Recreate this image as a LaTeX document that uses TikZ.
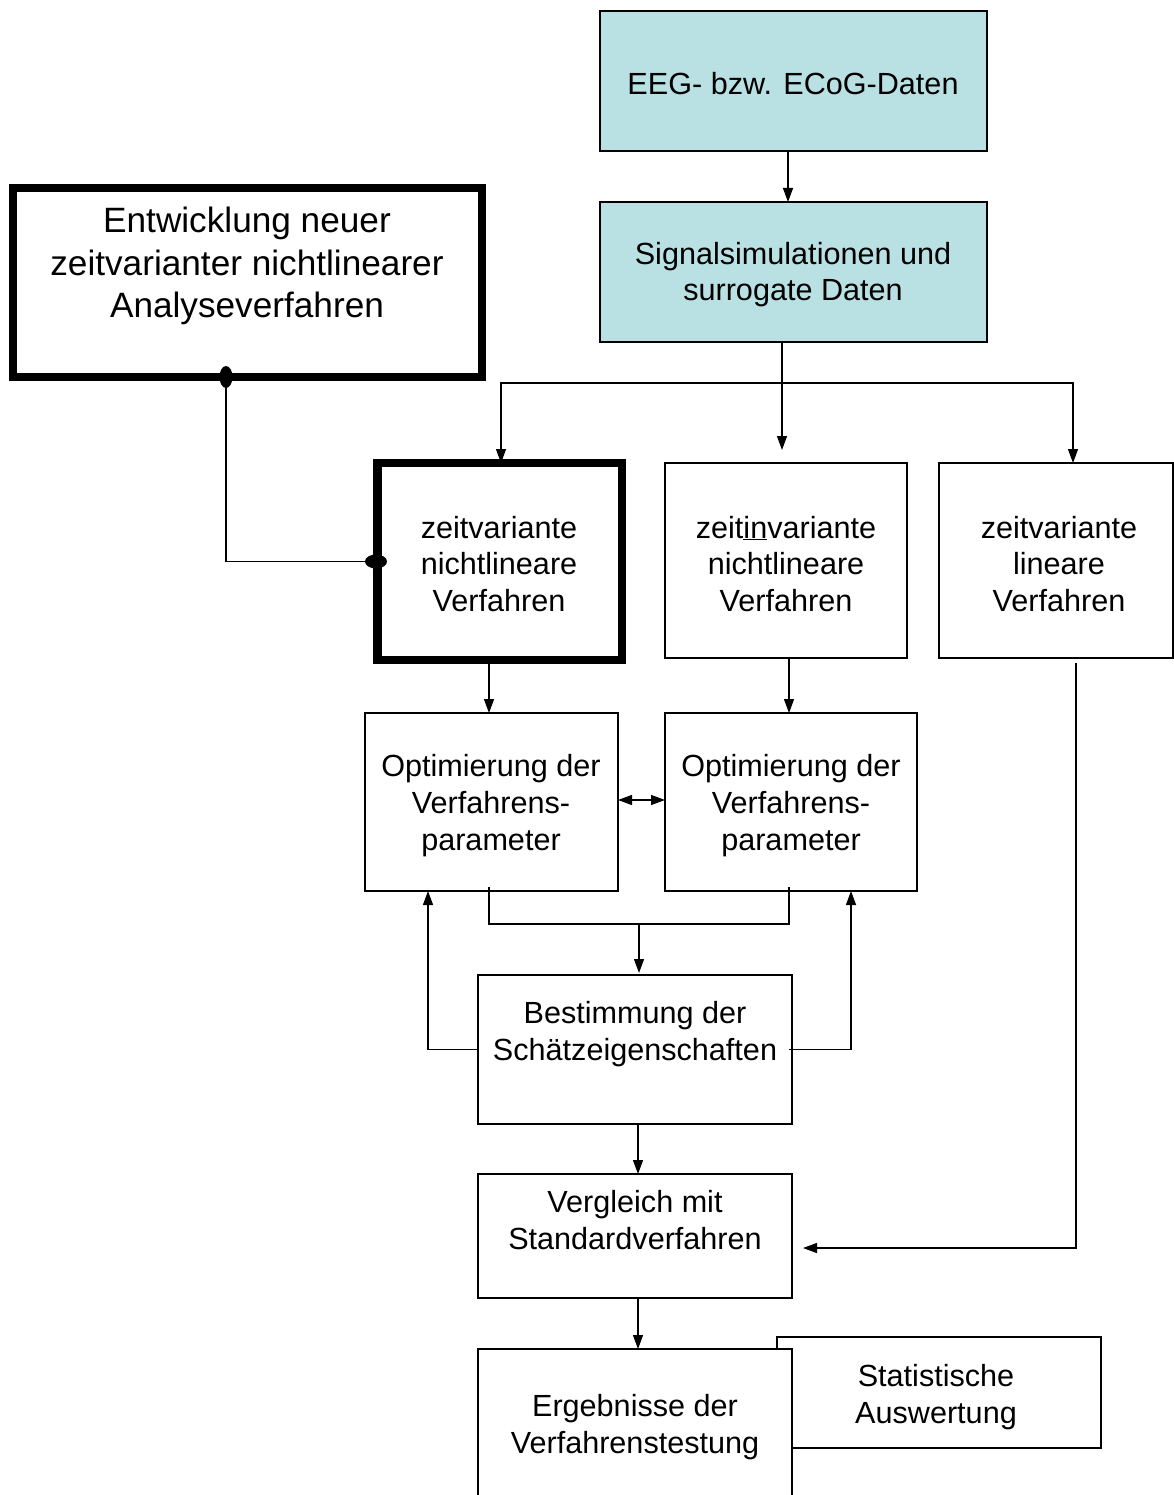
\documentclass[tikz,border=0pt]{standalone}
\usepackage{fontspec}
\setmainfont{Liberation Sans}
\usetikzlibrary{arrows.meta,calc,fit,shapes.geometric}
\definecolor{datafill}{RGB}{185,224,227}

\begin{document}
\begin{tikzpicture}[x=1pt,y=-1pt,
  box/.style={draw, line width=1.3pt, inner sep=0pt, outer sep=0pt},
  heavybox/.style={draw, line width=8.5pt, inner sep=0pt, outer sep=0pt},
  txt/.style={align=center, font=\fontsize{30.6}{36.8}\selectfont},
  bigtxt/.style={align=center, font=\fontsize{35.2}{42.5}\selectfont},
  link/.style={line width=1.3pt},
  arr/.style={link, -{Triangle[length=14pt,width=10pt]}},
  biarr/.style={link, {Triangle[length=14pt,width=10pt]}-{Triangle[length=14pt,width=10pt]}},
  dot/.style={ellipse, fill, inner sep=0pt, outer sep=0pt}]
\useasboundingbox (0,0) rectangle (1173,1495);

% columns and levels used by the connectors
\coordinate (x788) at (788,0);
\coordinate (x782) at (782,0);
\coordinate (x489) at (489,0);
\coordinate (x789) at (789,0);
\coordinate (x428) at (428,0);
\coordinate (x851) at (851,0);
\coordinate (x638) at (638,0);
\coordinate (x1076) at (1076,0);
\coordinate (x1073) at (1073,0);
\coordinate (x501) at (501,0);
\coordinate (x226) at (226,0);
\coordinate (y800) at (0,800);

% data sources
\node[box, fill=datafill, fit={(600,11) (987,151)}] (eeg) {};
\node[txt] (eegtext) at (793,84) {EEG- bzw. ECoG-Daten};
\node[box, fill=datafill, fit={(600,202) (987,342)}] (sig) {};
\node[txt] (sigtext) at (793,274.5) {Signalsimulationen und\\surrogate Daten};

% development of new methods
\node[heavybox, fit={(13,188) (482,377)}] (dev) {};
\node[bigtxt] (devtext) at (247,266) {Entwicklung neuer\\zeitvarianter nichtlinearer\\Analyseverfahren};

% method classes
\node[heavybox, fit={(377.5,463) (622,660)}] (tvnl) {};
\node[txt] (tvnltext) at (499,564) {zeitvariante\\nichtlineare\\Verfahren};
\node[box, fit={(665,463) (907,658)}] (tinl) {};
\node[txt] (tinltext) at (786,564) {zeit\underline{in}variante\\nichtlineare\\Verfahren};
\node[box, fit={(939,463) (1173,658)}] (tvl) {};
\node[txt] (tvltext) at (1059,564) {zeitvariante\\lineare\\Verfahren};

% parameter optimisation
\node[box, fit={(365,713) (618,891)}] (opt1) {};
\node[txt] (opt1text) at (491,805.5) {Optimierung der\\Verfahrens-\\parameter};
\node[box, fit={(665,713) (917,891)}] (opt2) {};
\node[txt] (opt2text) at (791,805.5) {Optimierung der\\Verfahrens-\\parameter};

% evaluation chain
\node[box, fit={(478,975) (792,1124)}] (est) {};
\node[txt] (esttext) at (635,1034) {Bestimmung der\\Schätzeigenschaften};
\node[box, fit={(478,1174) (792,1298)}] (cmp) {};
\node[txt] (cmptext) at (635,1220) {Vergleich mit\\Standardverfahren};
\node[box, fit={(777,1337) (1101,1448)}] (stat) {};
\node[txt] (stattext) at (936,1397) {Statistische\\Auswertung};
\node[box, fill=white, fit={(478,1349) (792,1530)}] (res) {};
\node[txt] (restext) at (635,1427) {Ergebnisse der\\Verfahrenstestung};

% connectors
\draw[arr] (eeg.south -| x788) -- (sig.north -| x788);
\coordinate (hub) at (782,383);
\draw[link] (sig.south -| x782) -- (hub);
\draw[arr] (hub) -- ($(tinl.north -| x782)+(0,-13)$);
\draw[arr] (hub) -| (tvnl.north -| x501);
\draw[arr] (hub) -| (tvl.north -| x1073);

\draw[link] (dev.south -| x226) |- (tvnl.west);
\node[dot, minimum width=13pt, minimum height=22pt] (d1) at (dev.south -| x226) {};
\node[dot, minimum width=22pt, minimum height=14pt] (d2) at ($(tvnl.west)+(-1.5,0)$) {};

\draw[arr] (tvnl.south -| x489) -- (opt1.north -| x489);
\draw[arr] (tinl.south -| x789) -- (opt2.north -| x789);
\draw[biarr] (opt1.east |- y800) -- (opt2.west |- y800);

\coordinate (merge) at (639,924);
\draw[link] ($(opt1.south -| x489)+(0,-4)$) |- (merge) -| ($(opt2.south -| x789)+(0,-4)$);
\draw[arr] (merge) -- ($(est.north -| merge)+(0,-2)$);

\draw[arr] (est.west) -| (opt1.south -| x428);
\draw[arr] ($(est.east)+(-3,0)$) -| (opt2.south -| x851);

\draw[arr] (est.south -| x638) -- (cmp.north -| x638);
\coordinate (cmpin) at ($(cmp.east)+(11,12)$);
\draw[arr] ($(tvl.south -| x1076)+(0,5)$) |- (cmpin);
\draw[arr] (cmp.south -| x638) -- (res.north -| x638);
\end{tikzpicture}
\end{document}
